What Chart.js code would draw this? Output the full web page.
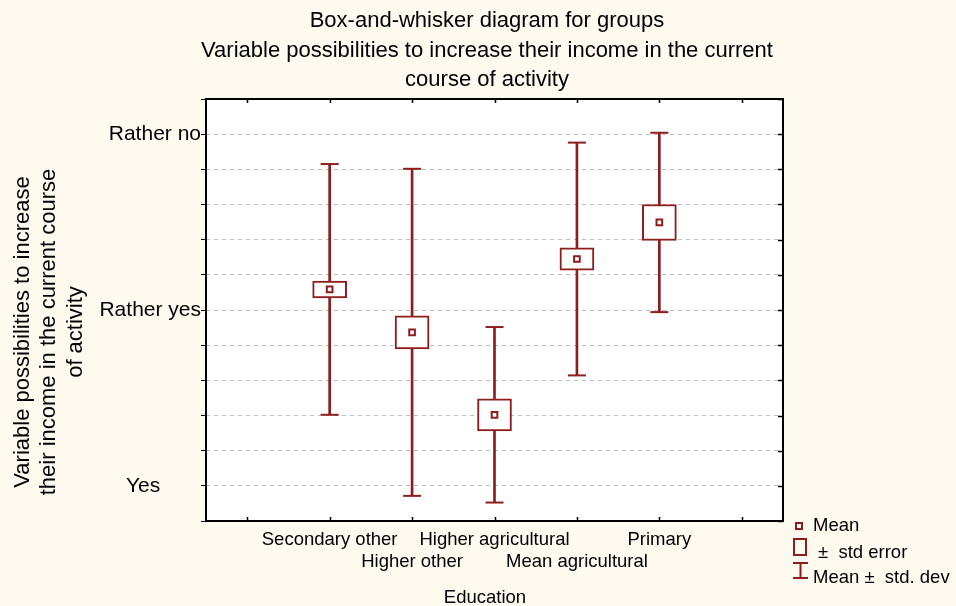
<!DOCTYPE html>
<html>
<head>
<meta charset="utf-8">
<script src="https://cdn.jsdelivr.net/npm/chart.js@4.4.1/dist/chart.umd.min.js"></script>
<style>
  html, body { margin: 0; padding: 0; background: #fffaf0; }
  #wrap { width: 956px; height: 606px; }
</style>
</head>
<body>
<div id="wrap"><canvas id="chart" width="956" height="606"></canvas></div>
<script>
const groups = ['Secondary other', 'Higher other', 'Higher agricultural', 'Mean agricultural', 'Primary']
const means = [2.117, 1.873, 1.404, 2.290, 2.498]
const stdErrors = [0.048, 0.094, 0.091, 0.064, 0.102]
const stdDevs = [0.713, 0.930, 0.499, 0.662, 0.510]
const yLabels = ['Yes', 'Rather yes', 'Rather no']

const titleLines = [
  'Box-and-whisker diagram for groups',
  'Variable possibilities to increase their income in the current',
  'course of activity',
]
const yTitleLines = [
  'Variable possibilities to increase',
  'their income in the current course',
  'of activity',
]
const xTitle = 'Education'

const RED = '#8e1d1d'
const FONT = '"Liberation Sans", Arial, sans-serif'
Chart.defaults.font.family = FONT
Chart.defaults.color = '#000'

const idx = groups.map((g, i) => i)

// white plot area + frame with small inward ticks
const framePlugin = {
  id: 'frame',
  beforeDraw(chart) {
    const { ctx, chartArea: a } = chart
    ctx.save()
    ctx.fillStyle = '#fff'
    ctx.fillRect(a.left, a.top, a.right - a.left, a.bottom - a.top)
    ctx.restore()
  },
  afterDraw(chart) {
    const { ctx, chartArea: a, scales } = chart
    ctx.save()
    ctx.strokeStyle = '#000'
    ctx.lineWidth = 1.5
    ctx.beginPath()
    scales.x.ticks.forEach(t => {
      const px = Math.round(scales.x.getPixelForValue(t.value)) + 0.5
      ctx.moveTo(px, a.top); ctx.lineTo(px, a.top + 4)
      ctx.moveTo(px, a.bottom); ctx.lineTo(px, a.bottom - 4)
    })
    scales.y.ticks.forEach(t => {
      const py = Math.round(scales.y.getPixelForValue(t.value)) + 0.5
      ctx.moveTo(a.right, py); ctx.lineTo(a.right - 5, py)
    })
    ctx.stroke()
    ctx.lineWidth = 2
    ctx.strokeRect(a.left, a.top, a.right - a.left, a.bottom - a.top)
    ctx.restore()
  },
}

// titles and legend
const textPlugin = {
  id: 'texts',
  afterDraw(chart) {
    const { ctx } = chart
    ctx.save()
    ctx.fillStyle = '#000'
    ctx.textAlign = 'center'
    ctx.textBaseline = 'middle'
    ctx.font = '22px ' + FONT
    titleLines.forEach((t, i) => ctx.fillText(t, 487, 21 + i * 29.5))

    ctx.save()
    ctx.translate(49, 332)
    ctx.rotate(-Math.PI / 2)
    yTitleLines.forEach((t, i) => ctx.fillText(t, 0, (i - 1) * 26.5))
    ctx.restore()

    ctx.font = '18.5px ' + FONT
    ctx.fillText(xTitle, 485, 598)

    // legend
    ctx.textAlign = 'left'
    ctx.font = '18.5px ' + FONT
    ctx.fillText('Mean', 813, 526)
    ctx.fillText('±  std error', 818, 553)
    ctx.fillText('Mean ±  std. dev', 813, 578)
    ctx.strokeStyle = RED
    ctx.lineWidth = 2
    ctx.strokeRect(796, 523, 6, 6)
    ctx.strokeRect(794, 539, 12, 16)
    ctx.beginPath()
    ctx.moveTo(793, 563); ctx.lineTo(808, 563)
    ctx.moveTo(800.5, 563); ctx.lineTo(800.5, 578)
    ctx.moveTo(793, 578); ctx.lineTo(808, 578)
    ctx.stroke()
    ctx.restore()
  },
}

new Chart(document.getElementById('chart'), {
  type: 'bar',
  data: {
    datasets: [
      {
        type: 'scatter',
        label: 'Mean',
        data: idx.map(i => ({ x: i, y: means[i] })),
        pointStyle: 'rect',
        pointRadius: 4,
        pointBorderWidth: 2,
        borderColor: RED,
        backgroundColor: '#fff',
        order: 0,
      },
      {
        type: 'bar',
        label: '± std error',
        data: idx.map(i => ({ x: i, y: [means[i] - stdErrors[i], means[i] + stdErrors[i]] })),
        backgroundColor: '#fff',
        borderColor: RED,
        borderWidth: 2,
        borderSkipped: false,
        barThickness: 34,
        grouped: false,
        order: 1,
      },
      {
        type: 'scatter',
        label: 'caps',
        data: idx.flatMap(i => [
          { x: i, y: means[i] - stdDevs[i] },
          { x: i, y: means[i] + stdDevs[i] },
        ]),
        pointStyle: 'line',
        pointRadius: 9,
        pointBorderWidth: 2,
        borderColor: RED,
        order: 2,
      },
      {
        type: 'bar',
        label: 'Mean ± std. dev',
        data: idx.map(i => ({ x: i, y: [means[i] - stdDevs[i], means[i] + stdDevs[i]] })),
        backgroundColor: RED,
        borderWidth: 0,
        barThickness: 2,
        grouped: false,
        order: 3,
      },
    ],
  },
  options: {
    responsive: false,
    animation: false,
    devicePixelRatio: 1,
    layout: { padding: { top: 99, right: 173, left: 0, bottom: 0 } },
    plugins: {
      legend: { display: false },
      tooltip: { enabled: false },
    },
    scales: {
      x: {
        type: 'linear',
        offset: false,
        min: -1.5,
        max: 5.5,
        afterBuildTicks: axis => {
          axis.ticks = [-1, 0, 1, 2, 3, 4, 5].map(v => ({ value: v }))
        },
        afterFit: s => { s.height = 85 },
        grid: { drawOnChartArea: false, drawTicks: false, offset: false },
        border: { display: false },
        ticks: {
          autoSkip: false,
          maxRotation: 0,
          minRotation: 0,
          padding: 8,
          color: '#000',
          font: { size: 18.5, lineHeight: 1.2 },
          callback: v => {
            if (!Number.isInteger(v) || v < 0 || v >= groups.length) return ''
            return v % 2 ? ['', groups[v]] : groups[v]
          },
        },
      },
      y: {
        min: 0.8,
        max: 3.2,
        afterFit: s => { s.width = 206 },
        grid: { color: '#bdbdbd', lineWidth: 1, tickColor: '#000', tickLength: 5 },
        border: { display: false, dash: [4, 4] },
        ticks: {
          stepSize: 0.2,
          padding: 0,
          color: '#000',
          font: { size: 21 },
          callback: v => {
            const k = Math.round(v)
            if (Math.abs(v - k) > 1e-6 || k < 1 || k > 3) return ''
            // the reference sets "Yes" off to the left of the axis
            return k === 1 ? yLabels[0] + '\u00a0'.repeat(7) : yLabels[k - 1]
          },
        },
      },
    },
  },
  plugins: [framePlugin, textPlugin],
})
</script>
</body>
</html>
